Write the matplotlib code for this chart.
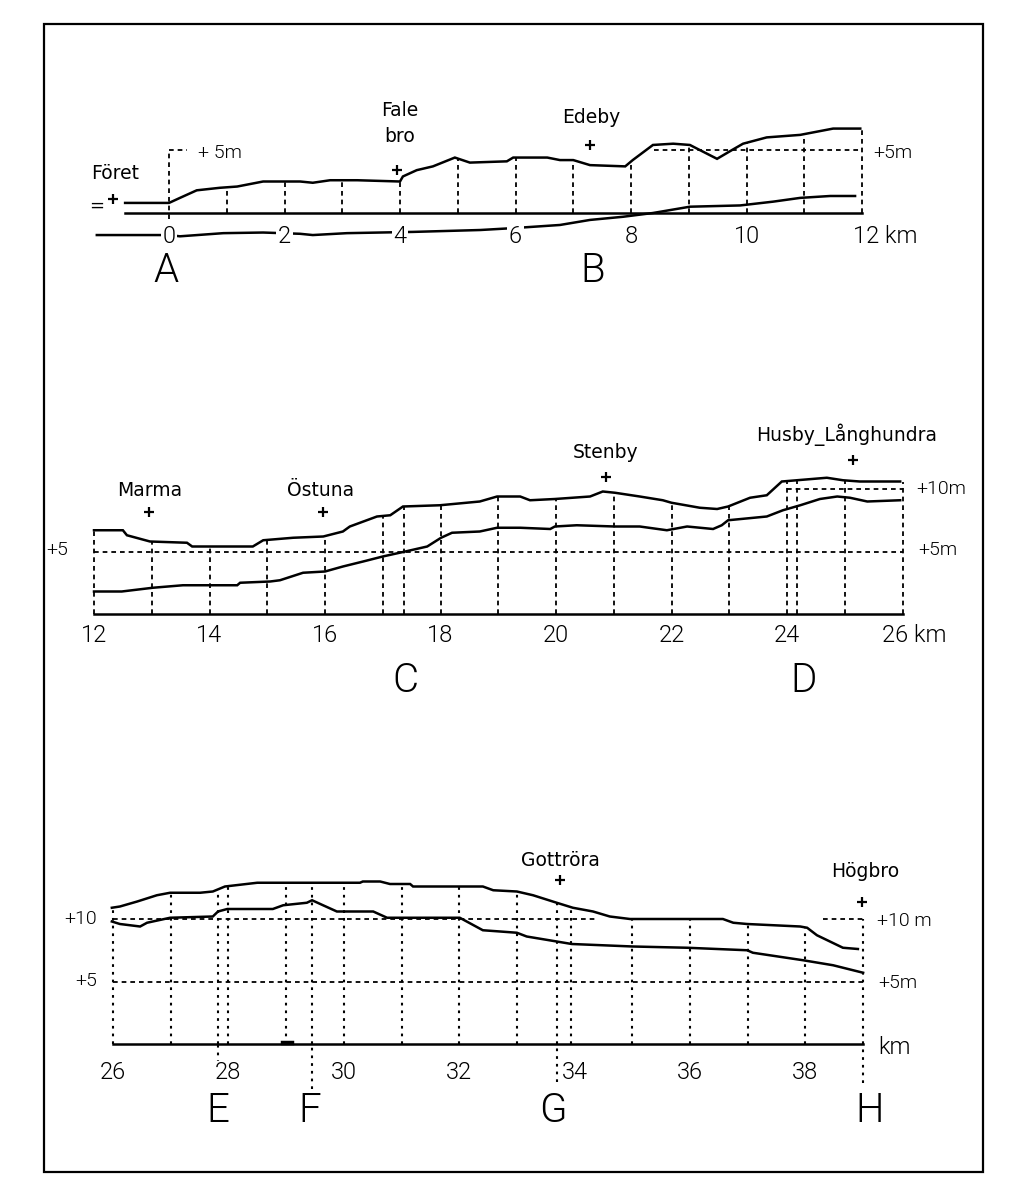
import numpy as np
import matplotlib
matplotlib.use('Agg')
import matplotlib.pyplot as plt
from matplotlib.patches import Rectangle

W, H = 1024, 1197

# %% panel 1 : km 0-12  (A - B)
p1_top_km = [-0.76, 0, 0.19, 0.48, 0.88, 1.18, 1.63, 2.27, 2.49, 2.79, 3.26, 4.0, 4.05,
             4.29, 4.57, 4.95, 5.21, 5.85, 5.96, 6.55, 6.77, 7.0, 7.29, 7.9, 8.03, 8.38,
             8.73, 9.02, 9.19, 9.49, 9.75, 9.94, 10.35, 10.93, 11.5, 11.97]
p1_top_m = [0.8, 0.8, 1.2, 1.8, 2.0, 2.1, 2.5, 2.5, 2.4, 2.6, 2.6, 2.5, 2.9,
            3.4, 3.7, 4.4, 4.0, 4.1, 4.4, 4.4, 4.2, 4.2, 3.8, 3.7, 4.2, 5.4,
            5.5, 5.4, 5.0, 4.3, 5.0, 5.5, 6.0, 6.2, 6.7, 6.7]
p1_low_km = [-1.25, 0, 0.19, 0.94, 1.63, 2.27, 2.49, 3.08, 4.23, 5.39, 5.96, 6.77, 7.29,
             7.86, 8.38, 9.02, 9.89, 10.46, 10.93, 11.45, 11.88]
p1_low_m = [-1.75, -1.75, -1.85, -1.6, -1.55, -1.65, -1.75, -1.6, -1.5, -1.35, -1.2, -0.95, -0.55,
            -0.3, 0.0, 0.5, 0.6, 0.9, 1.2, 1.35, 1.35]
p1_grid = [1, 2, 3, 4, 5, 6, 7, 8, 9, 10, 11, 12]
p1_ticks = [0, 2, 4, 6, 8, 10]
p1_places = ['Föret', 'Fale\nbro', 'Edeby']
p1_place_km = [-0.94, 4.0, 7.32]
p1_place_m = [3.1, 7.1, 7.6]
p1_cross_km = [-0.97, 3.95, 7.29]
p1_cross_m = [1.1, 3.4, 5.4]
p1_letters = ['A', 'B']
p1_letter_km = [-0.05, 7.34]

# %% panel 2 : km 12-26  (C - D)
p2_top_km = [12.0, 12.5, 12.57, 12.97, 13.61, 13.7, 14.75, 14.93, 15.45, 15.97, 16.31, 16.43,
             16.9, 17.13, 17.35, 17.99, 18.68, 18.98, 19.38, 19.55, 19.98, 20.59, 20.81, 21.02,
             21.45, 21.85, 22.0, 22.49, 22.79, 22.98, 23.36, 23.65, 23.91, 24.43, 24.69, 24.97,
             25.26, 25.96]
p2_top_m = [6.7, 6.7, 6.3, 5.8, 5.7, 5.4, 5.4, 5.9, 6.1, 6.2, 6.6, 7.0,
            7.8, 7.9, 8.6, 8.7, 9.0, 9.4, 9.4, 9.1, 9.2, 9.4, 9.8, 9.7,
            9.4, 9.1, 8.9, 8.5, 8.4, 8.6, 9.3, 9.5, 10.6, 10.8, 10.9, 10.7,
            10.6, 10.6]
p2_low_km = [12.0, 12.48, 13.02, 13.54, 14.48, 14.53, 15.05, 15.22, 15.62, 16.0, 16.31, 16.66,
             17.0, 17.39, 17.77, 18.01, 18.2, 18.68, 18.98, 19.38, 19.9, 19.98, 20.36, 21.02,
             21.45, 21.92, 22.27, 22.72, 22.87, 22.98, 23.65, 23.93, 24.23, 24.57, 24.87, 25.09,
             25.39, 25.96]
p2_low_m = [1.8, 1.8, 2.1, 2.3, 2.3, 2.5, 2.6, 2.7, 3.3, 3.4, 3.8, 4.2,
            4.6, 5.0, 5.4, 6.1, 6.5, 6.6, 6.9, 6.9, 6.8, 7.0, 7.1, 7.0,
            7.0, 6.7, 7.0, 6.8, 7.1, 7.5, 7.8, 8.3, 8.7, 9.2, 9.4, 9.3,
            9.0, 9.1]
p2_grid = [12, 13, 14, 15, 16, 17, 17.37, 18, 19, 20, 21, 22, 23, 24, 24.17, 25, 26]
p2_ticks = [12, 14, 16, 18, 20, 22, 24]
p2_places = ['Marma', 'Östuna', 'Stenby', 'Husby_Långhundra']
p2_place_km = [12.97, 15.92, 20.85, 25.04]
p2_place_m = [9.9, 9.9, 12.9, 14.3]
p2_cross_km = [12.95, 15.97, 20.86, 25.15]
p2_cross_m = [8.2, 8.2, 11.0, 12.3]
p2_letters = ['C', 'D']
p2_letter_km = [17.39, 24.28]

# %% panel 3 : km 26-39  (E - H)
p3_top_km = [25.98, 26.12, 26.42, 26.76, 26.99, 27.51, 27.73, 27.94, 28.5, 30.28, 30.33, 30.63,
             30.8, 31.15, 31.2, 32.41, 32.59, 33.0, 33.28, 33.69, 33.97, 34.32, 34.61, 34.96,
             36.57, 36.75, 36.99, 37.91, 38.03, 38.2, 38.65, 38.91]
p3_top_m = [10.9, 11.0, 11.4, 11.9, 12.1, 12.1, 12.2, 12.6, 12.9, 12.9, 13.0, 13.0,
            12.8, 12.8, 12.6, 12.6, 12.3, 12.2, 11.9, 11.3, 10.9, 10.6, 10.2, 10.0,
            10.0, 9.7, 9.6, 9.4, 9.3, 8.7, 7.7, 7.6]
p3_low_km = [25.98, 26.12, 26.47, 26.59, 26.99, 27.73, 27.82, 27.98, 28.77, 28.95, 29.36, 29.45,
             29.64, 29.88, 30.51, 30.75, 32.01, 32.41, 32.71, 33.0, 33.17, 33.69, 33.95, 35.01,
             35.95, 36.99, 37.09, 37.96, 38.48, 39.0]
p3_low_m = [9.8, 9.6, 9.4, 9.7, 10.1, 10.2, 10.6, 10.8, 10.8, 11.1, 11.3, 11.5,
            11.1, 10.6, 10.6, 10.1, 10.1, 9.1, 9.0, 8.9, 8.6, 8.2, 8.0, 7.8,
            7.7, 7.5, 7.3, 6.7, 6.3, 5.7]
p3_grid = [26, 27, 27.82, 28, 29, 29.45, 30, 31, 32, 33, 33.7, 33.94, 35, 36, 37, 38]
p3_ticks = [26, 28, 30, 32, 34, 36, 38]
p3_places = ['Gottröra', 'Högbro']
p3_place_km = [33.75, 39.03]
p3_place_m = [14.7, 13.8]
p3_cross_km = [33.75, 38.98]
p3_cross_m = [13.1, 11.4]
p3_letters = ['E', 'F', 'G', 'H']
p3_letter_km = [27.82, 29.41, 33.63, 39.12]
p3_drop_km = [27.82, 29.45, 33.7, 39.0]
p3_drop_m = [-1.5, -3.6, -3.0, -3.1]

# %%
plt.rcParams['font.family'] = ['DejaVu Sans']
NUM = dict(family=['Roboto', 'DejaVu Sans'], fontweight=300, color='k')
BIG = dict(family=['Roboto', 'DejaVu Sans'], fontweight=300, color='k')
NAME = dict(family=['DejaVu Sans'], fontsize=13.5, color='k')
DASH = dict(color='k', lw=1.3, ls=(0, (2.6, 2.2)))
DOT = dict(color='k', lw=1.5, ls=(0, (1.3, 2.4)))
LINE = dict(color='k', lw=1.8, solid_joinstyle='miter')

fig = plt.figure(figsize=(W / 100, H / 100), dpi=100)
fig.patches.append(Rectangle((44 / W, 1 - 1172 / H), (983 - 44) / W, (1172 - 24) / H,
                             transform=fig.transFigure, fill=False, lw=1.6, ec='k'))


def panel(top, bot, km_ref, px_ref, kx, py_ref, ky):
    ax = fig.add_axes([0, 1 - bot / H, 1, (bot - top) / H])
    ax.set_xlim(km_ref - px_ref / kx, km_ref + (W - px_ref) / kx)
    ax.set_ylim((py_ref - bot) / ky, (py_ref - top) / ky)
    ax.axis('off')
    return ax


def places(ax, names, nkm, nm, ckm, cm):
    for s, x, y in zip(names, nkm, nm):
        ax.text(x, y, s, ha='center', va='center', linespacing=1.5, **NAME)
    ax.plot(ckm, cm, 'k+', ms=7, mew=1.6, ls='none')


def verticals(ax, kms, top_km, top_m, style):
    tops = np.interp(kms, top_km, top_m)
    ax.vlines(kms, 0, tops, **style)


# ---------- panel 1
ax1 = panel(60, 320, 0, 169, 57.75, 213, 12.6)
ax1.plot(p1_top_km, p1_top_m, **LINE)
ax1.plot(p1_low_km, p1_low_m, **LINE)
ax1.plot([p1_top_km[0], 12], [0, 0], **LINE)
verticals(ax1, p1_grid, p1_top_km, p1_top_m, DASH)
ax1.vlines(0, -0.5, 5, **DASH)
ax1.hlines(5, 0, 0.32, **DASH)
ax1.hlines(5, 8.4, 12, **DASH)
for k in p1_ticks:
    ax1.text(k, -1.85, str(k), ha='center', va='center', fontsize=17,
             bbox=dict(fc='white', ec='none', pad=1.2), **NUM)
ax1.text(11.85, -1.85, '12 km', ha='left', va='center', fontsize=17, **NUM)
ax1.text(0.5, 4.8, '+ 5m', ha='left', va='center', fontsize=14, **NUM)
ax1.text(12.2, 4.76, '+5m', ha='left', va='center', fontsize=14, **NUM)
ax1.text(-1.25, 0.55, '=', ha='center', va='center', fontsize=13, color='k')
places(ax1, p1_places, p1_place_km, p1_place_m, p1_cross_km, p1_cross_m)
for s, k in zip(p1_letters, p1_letter_km):
    ax1.text(k, -4.6, s, ha='center', va='center', fontsize=29, **BIG)

# ---------- panel 2
ax2 = panel(400, 720, 12, 94, 57.75, 614, 12.5)
ax2.plot(p2_top_km, p2_top_m, **LINE)
ax2.plot(p2_low_km, p2_low_m, **LINE)
ax2.plot([12, 26], [0, 0], **LINE)
verticals(ax2, p2_grid, p2_top_km, p2_top_m, DASH)
ax2.hlines(5, 12, 26, **DASH)
ax2.hlines(10, 24, 26, **DASH)
for k in p2_ticks:
    ax2.text(k, -1.7, str(k), ha='center', va='center', fontsize=17, **NUM)
ax2.text(25.65, -1.7, '26 km', ha='left', va='center', fontsize=17, **NUM)
ax2.text(11.55, 5.1, '+5', ha='right', va='center', fontsize=14, **NUM)
ax2.text(26.23, 10.0, '+10m', ha='left', va='center', fontsize=14, **NUM)
ax2.text(26.28, 5.1, '+5m', ha='left', va='center', fontsize=14, **NUM)
places(ax2, p2_places, p2_place_km, p2_place_m, p2_cross_km, p2_cross_m)
for s, k in zip(p2_letters, p2_letter_km):
    ax2.text(k, -5.3, s, ha='center', va='center', fontsize=29, **BIG)

# ---------- panel 3
ax3 = panel(830, 1140, 26, 113, 57.7, 1044, 12.5)
ax3.plot(p3_top_km, p3_top_m, **LINE)
ax3.plot(p3_low_km, p3_low_m, **LINE)
ax3.plot([26, 39], [0, 0], **LINE)
ax3.plot([28.95, 29.1], [0.05, 0.05], color='k', lw=3.2)
verticals(ax3, p3_grid, p3_top_km, p3_top_m, DOT)
ax3.vlines(39, 0, 10, **DOT)
ax3.vlines(p3_drop_km, p3_drop_m, 0, **DOT)
ax3.hlines(5, 26, 39, **DASH)
ax3.hlines(10, 26, 34.4, **DASH)
ax3.hlines(10, 38.3, 39, **DASH)
for k in p3_ticks:
    ax3.text(k, -2.3, str(k), ha='center', va='center', fontsize=17,
             bbox=dict(fc='white', ec='none', pad=0.5), **NUM)
ax3.text(25.72, 10.0, '+10', ha='right', va='center', fontsize=14, **NUM)
ax3.text(25.72, 5.0, '+5', ha='right', va='center', fontsize=14, **NUM)
ax3.text(39.24, 9.8, '+10 m', ha='left', va='center', fontsize=14, **NUM)
ax3.text(39.26, 4.9, '+5m', ha='left', va='center', fontsize=14, **NUM)
ax3.text(39.26, -0.3, 'km', ha='left', va='center', fontsize=17, **NUM)
places(ax3, p3_places, p3_place_km, p3_place_m, p3_cross_km, p3_cross_m)
for s, k in zip(p3_letters, p3_letter_km):
    ax3.text(k, -5.3, s, ha='center', va='center', fontsize=29, **BIG)

fig.savefig('out.png', dpi=100, facecolor='white')
